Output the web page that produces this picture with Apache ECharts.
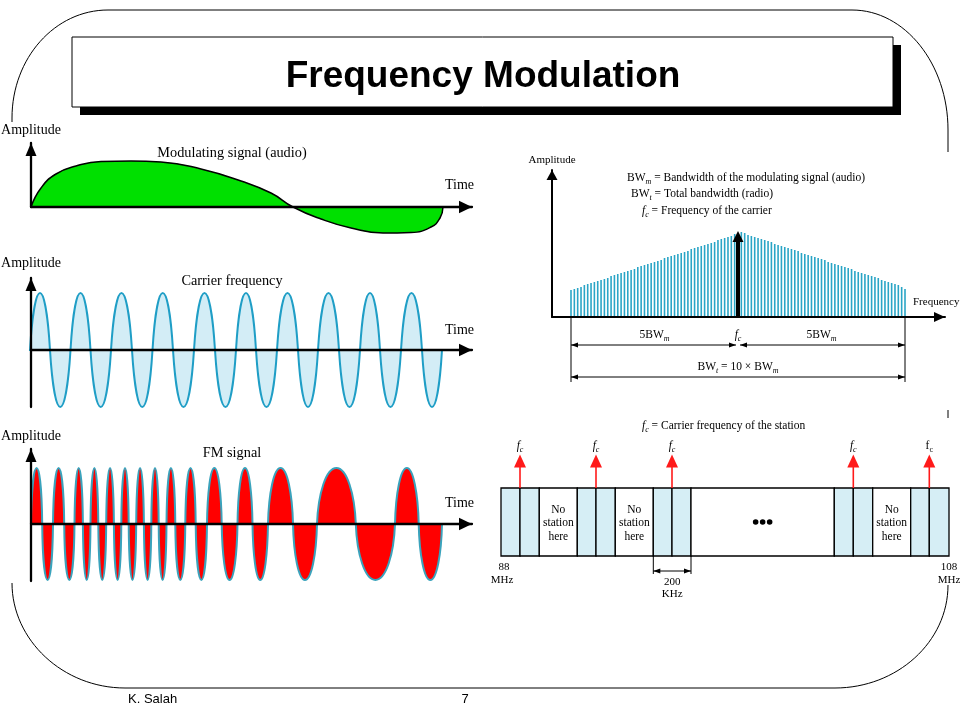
<!DOCTYPE html>
<html>
<head>
<meta charset="utf-8">
<title>Frequency Modulation</title>
<script src="https://cdn.jsdelivr.net/npm/echarts@6/dist/echarts.min.js"></script>
<style>
html,body{margin:0;padding:0;background:#ffffff;}
#chart{width:960px;height:720px;}
</style>
</head>
<body>
<div id="chart"></div>
<script>
// ---------------- data ----------------
// Modulating (audio) signal: [time, amplitude]
const modulatingSignal = [[0,0],[10,19],[25,33],[45,41],[70,45.5],[100,46],[130,45],[170,38],[210,26],[240,14],[262,0],[290,-12],[320,-21],[352,-26],[380,-25.5],[400,-20],[409,-11],[412,0]];
// Carrier: zero crossings along the time axis, and its amplitude
const carrierCrossings = [-1,19,39.5,59.5,80,101,121.5,142,163,184,205,225,246,267,287,308,329,349,370,391,411];
const carrierAmplitude = 57;
// FM signal: zero crossings along the time axis, and its amplitude
const fmCrossings = [0,11.2,22,33.2,43.5,51.9,59.5,67.3,75.2,82.9,90.3,97.7,105.2,112.9,120.3,127.7,135.5,144.3,154.3,164.7,176,190.7,206.5,221.5,237,262,286,324.8,364,387.7,411];
const fmAmplitude = 56;
// Spectrum: lower sidebands, carrier, upper sidebands (heights)
const lowerSidebands = [27,28,29,30,32,33,34,35,36,37,38,39,41,42,43,44,45,46,47,48,50,51,52,53,54,55,56,57,59,60,61,62,63,64,65,66,68,69,70,71,72,73,74,75,77,78,79,80,81,83];
const carrierLine = 86;
const upperSidebands = [85,84,82,81,80,79,78,77,76,75,73,72,71,70,69,68,67,66,64,63,62,61,60,59,58,57,55,54,53,52,51,50,49,48,46,45,44,43,42,41,40,39,37,36,35,34,33,32,30,28];
// FM band: cells [start, end, kind]  kind 1 = station channel, 0 = no station, 2 = omitted
const bandCells = [[0,19,1],[19,38.3,1],[38.3,76.3,0],[76.3,95,1],[95,114.3,1],[114.3,152.3,0],[152.3,171,1],[171,190,1],[190,333.3,2],[333.3,352.3,1],[352.3,371.7,1],[371.7,409.7,0],[409.7,428.3,1],[428.3,448,1]];
const stationCarriers = [19, 95, 171, 352.3, 428.3];

// ---------------- derived tables ----------------
function lobes(crossings, amp) {
  const out = [];
  for (let i = 0; i < crossings.length - 1; i++) out.push([crossings[i], crossings[i + 1], i % 2 === 0 ? amp : -amp]);
  return out;
}
const carrierLobes = lobes(carrierCrossings, carrierAmplitude);
const fmLobes = lobes(fmCrossings, fmAmplitude);
const spectrumBars = lowerSidebands.concat(['-'], upperSidebands);
const spectrumLabels = spectrumBars.map((v, i) => 'n' + (i - lowerSidebands.length));
const carrierIndex = lowerSidebands.length;

// ---------------- styling ----------------
const serif = '"Liberation Serif", "Times New Roman", serif';
const sans = '"Liberation Sans", Arial, sans-serif';
const BAND_H = 68;

const chart = echarts.init(document.getElementById('chart'));

function axisLook(w, size) {
  return {
    z: 10,
    axisLine: {show: true, onZero: true, symbol: ['none', 'triangle'], symbolSize: size,
      symbolOffset: [0, -size[1] / 2], lineStyle: {color: '#000', width: w}},
    axisTick: {show: false}, axisLabel: {show: false}, splitLine: {show: false}
  };
}
function hidden(extra) {
  return Object.assign({show: false, axisTick: {show: false}, axisLabel: {show: false}, splitLine: {show: false}}, extra);
}

// lobe outline: two cubic quarter arcs; k1x,k1y,k2x shape the curve
function lobeRenderer(fill, stroke, k1x, k1y, k2x) {
  return function (params, api) {
    const x0 = api.value(0), x1 = api.value(1), amp = api.value(2);
    const a = api.coord([x0, 0]), b = api.coord([x1, 0]);
    const top = api.coord([x0, amp])[1];
    const w = (b[0] - a[0]) / 2, m = a[0] + w, y0 = a[1], dy = top - y0;
    const d = 'M' + a[0] + ' ' + y0 +
      ' C' + (a[0] + k1x * w) + ' ' + (y0 + k1y * dy) + ' ' + (a[0] + k2x * w) + ' ' + top + ' ' + m + ' ' + top +
      ' C' + (b[0] - k2x * w) + ' ' + top + ' ' + (b[0] - k1x * w) + ' ' + (y0 + k1y * dy) + ' ' + b[0] + ' ' + y0 + ' Z';
    return {type: 'path', shape: {pathData: d}, style: {fill: fill, stroke: stroke, lineWidth: 2}};
  };
}

const richSet = {
  r: {fontFamily: serif, fontSize: 11.5, lineHeight: 16, fill: '#000'},
  i: {fontFamily: serif, fontSize: 11.5, fontStyle: 'italic', lineHeight: 16, fill: '#000'},
  s: {fontFamily: serif, fontSize: 8, lineHeight: 8, verticalAlign: 'bottom', fill: '#000'},
  si: {fontFamily: serif, fontSize: 8, fontStyle: 'italic', lineHeight: 8, verticalAlign: 'bottom', fill: '#000'}
};

const option = {
  animation: false,
  backgroundColor: '#fff',
  grid: [
    {left: 31, top: 143, width: 441, height: 64},
    {left: 31, top: 278, width: 441, height: 129},
    {left: 31, top: 449, width: 441, height: 132},
    {left: 552, top: 170, width: 393, height: 147},
    {left: 569.33, top: 170, width: 337.34, height: 147},
    {left: 501, top: 488, width: 448, height: BAND_H}
  ],
  xAxis: [
    Object.assign({gridIndex: 0, type: 'value', min: 0, max: 441}, axisLook(2.3, [12.5, 13])),
    Object.assign({gridIndex: 1, type: 'value', min: 0, max: 441}, axisLook(2.3, [12.5, 13])),
    Object.assign({gridIndex: 2, type: 'value', min: 0, max: 441}, axisLook(2.3, [12.5, 13])),
    Object.assign({gridIndex: 3, type: 'value', min: 0, max: 393}, axisLook(2, [10, 11])),
    hidden({gridIndex: 4, type: 'category', data: spectrumLabels}),
    hidden({gridIndex: 5, type: 'value', min: 0, max: 448})
  ],
  yAxis: [
    Object.assign({gridIndex: 0, type: 'value', min: 0, max: 64}, axisLook(2.3, [11, 13])),
    Object.assign({gridIndex: 1, type: 'value', min: -57, max: 72}, axisLook(2.3, [11, 13])),
    Object.assign({gridIndex: 2, type: 'value', min: -57, max: 75}, axisLook(2.3, [11, 13])),
    Object.assign({gridIndex: 3, type: 'value', min: 0, max: 147}, axisLook(2, [11, 10])),
    hidden({gridIndex: 4, type: 'value', min: 0, max: 147}),
    hidden({gridIndex: 5, type: 'value', min: 0, max: BAND_H})
  ],
  series: [
    {
      name: 'Modulating signal (audio)', type: 'line', xAxisIndex: 0, yAxisIndex: 0,
      data: modulatingSignal, smooth: 0.5, symbol: 'none', clip: false,
      lineStyle: {color: '#000', width: 1.5}, areaStyle: {color: '#00e000', opacity: 1}
    },
    {
      name: 'Carrier frequency', type: 'custom', xAxisIndex: 1, yAxisIndex: 1,
      data: carrierLobes, encode: {x: [0, 1], y: 2},
      renderItem: lobeRenderer('#d3edf6', '#1f9ec6', 0.18, 0.53, 0.55)
    },
    {
      name: 'FM signal', type: 'custom', xAxisIndex: 2, yAxisIndex: 2,
      data: fmLobes, encode: {x: [0, 1], y: 2},
      renderItem: lobeRenderer('#ff0000', '#3aa3bc', 0.06, 0.55, 0.47)
    },
    {
      name: 'Sidebands', type: 'bar', xAxisIndex: 4, yAxisIndex: 4,
      data: spectrumBars, barWidth: 1.6, itemStyle: {color: '#2aa5c6'}
    },
    {
      name: 'Carrier', type: 'custom', xAxisIndex: 4, yAxisIndex: 4,
      data: [[carrierIndex, carrierLine]], encode: {x: 0, y: 1}, z: 5,
      renderItem: function (params, api) {
        const b = api.coord([api.value(0), 0]), t = api.coord([api.value(0), api.value(1)]);
        return {type: 'group', children: [
          {type: 'line', shape: {x1: b[0], y1: b[1], x2: t[0], y2: t[1] + 9}, style: {stroke: '#000', lineWidth: 4}},
          {type: 'polygon', shape: {points: [[t[0], t[1]], [t[0] - 5.5, t[1] + 11], [t[0] + 5.5, t[1] + 11]]}, style: {fill: '#000'}}
        ]};
      }
    },
    {
      name: 'Band', type: 'custom', xAxisIndex: 5, yAxisIndex: 5,
      data: bandCells, encode: {x: [0, 1]},
      renderItem: function (params, api) {
        const x0 = api.value(0), x1 = api.value(1), k = api.value(2);
        const a = api.coord([x0, BAND_H]), b = api.coord([x1, 0]);
        const cx = (a[0] + b[0]) / 2, cy = (a[1] + b[1]) / 2;
        const ch = [{type: 'rect', shape: {x: a[0], y: a[1], width: b[0] - a[0], height: b[1] - a[1]},
          style: {fill: k === 1 ? '#d6eef5' : '#ffffff', stroke: '#000', lineWidth: 1.3}}];
        if (k === 0) {
          ch.push({type: 'text', x: cx, y: cy + 1, style: {text: 'No\nstation\nhere', fontFamily: serif, fontSize: 11.5,
            lineHeight: 13.5, fill: '#000', align: 'center', verticalAlign: 'middle', textAlign: 'center', textVerticalAlign: 'middle'}});
        }
        if (k === 2) {
          [-7, 0, 7].forEach(function (d) {
            ch.push({type: 'circle', shape: {cx: cx + d, cy: cy, r: 2.8}, style: {fill: '#000'}});
          });
        }
        return {type: 'group', children: ch};
      }
    },
    {
      name: 'Stations', type: 'custom', xAxisIndex: 5, yAxisIndex: 5,
      data: stationCarriers.map(function (v) { return [v]; }), encode: {x: 0},
      renderItem: function (params, api) {
        const b = api.coord([api.value(0), BAND_H]);
        const tip = b[1] - 33.5;
        const last = params.dataIndex === stationCarriers.length - 1;
        return {type: 'group', children: [
          {type: 'line', shape: {x1: b[0], y1: b[1], x2: b[0], y2: tip + 10}, style: {stroke: '#ff1a1a', lineWidth: 1.6}},
          {type: 'polygon', shape: {points: [[b[0], tip], [b[0] - 6, tip + 13], [b[0] + 6, tip + 13]]}, style: {fill: '#ff1a1a'}},
          {type: 'text', x: b[0], y: tip - 9, style: {text: last ? '{r|f}{s|c}' : '{i|f}{si|c}', rich: richSet,
            align: 'center', verticalAlign: 'middle', textAlign: 'center', textVerticalAlign: 'middle'}}
        ]};
      }
    }
  ]
};
chart.setOption(option);

// ---------------- annotations & slide furniture ----------------
function T(x, y, text, o) {
  o = o || {};
  const al = o.align || 'left';
  const st = Object.assign({text: text, fontFamily: serif, fontSize: 14, fill: '#000'}, o);
  st.align = al; st.textAlign = al; st.verticalAlign = 'middle'; st.textVerticalAlign = 'middle';
  return {type: 'text', x: x, y: y, z: 30, style: st};
}
function R(x, y, text, al) {
  return {type: 'text', x: x, y: y, z: 30, style: {text: text, rich: richSet, align: al || 'left', textAlign: al || 'left',
    verticalAlign: 'middle', textVerticalAlign: 'middle'}};
}
function L(x1, y1, x2, y2, w) {
  return {type: 'line', z: 30, shape: {x1: x1, y1: y1, x2: x2, y2: y2}, style: {stroke: '#000', lineWidth: w || 1}};
}
function B(x1, y1, c1x, c1y, c2x, c2y, x2, y2) {
  return {type: 'bezierCurve', z: 1, shape: {x1: x1, y1: y1, cpx1: c1x, cpy1: c1y, cpx2: c2x, cpy2: c2y, x2: x2, y2: y2},
    style: {stroke: '#000', lineWidth: 1, fill: 'none'}};
}
function dim(x1, x2, y) {
  return [
    L(x1, y, x2, y, 1),
    {type: 'polygon', z: 30, shape: {points: [[x1, y], [x1 + 7, y - 2.5], [x1 + 7, y + 2.5]]}, style: {fill: '#000'}},
    {type: 'polygon', z: 30, shape: {points: [[x2, y], [x2 - 7, y - 2.5], [x2 - 7, y + 2.5]]}, style: {fill: '#000'}}
  ];
}
function P(axisIdx, v) { return chart.convertToPixel({xAxisIndex: axisIdx, yAxisIndex: axisIdx}, v); }

const sL = P(4, [0, 0]), sC = P(4, [carrierIndex, 0]), sR = P(4, [spectrumBars.length - 1, 0]);
const yb = sL[1];
const c200a = P(5, [bandCells[6][0], 0]), c200b = P(5, [bandCells[7][1], 0]);
const bandL = P(5, [0, 0]), bandR = P(5, [448, 0]);

let g = [
  // frame
  B(12, 118, 12, 58, 55, 10, 108, 10),
  L(108, 10, 852, 10, 1),
  B(852, 10, 905, 10, 948, 64, 948, 130),
  L(948, 130, 948, 152, 1),
  L(948, 410, 948, 418, 1),
  B(948, 585, 948, 642, 897, 688, 835, 688),
  L(125, 688, 835, 688, 1),
  B(12, 583, 12, 640, 63, 688, 125, 688),
  L(12, 118, 12, 122, 1),
  // title box
  {type: 'rect', z: 2, shape: {x: 80, y: 45, width: 821, height: 70}, style: {fill: '#000'}},
  {type: 'rect', z: 3, shape: {x: 72, y: 37, width: 821, height: 70}, style: {fill: '#fff', stroke: '#000', lineWidth: 1}},
  T(483, 77, 'Frequency Modulation', {fontFamily: sans, fontSize: 37, fontWeight: 'bold', align: 'center'}),
  // left panels
  T(31, 130, 'Amplitude', {align: 'center'}),
  T(31, 263, 'Amplitude', {align: 'center'}),
  T(31, 436, 'Amplitude', {align: 'center'}),
  T(445, 185, 'Time'), T(445, 330, 'Time'), T(445, 503, 'Time'),
  T(232, 153, 'Modulating signal (audio)', {align: 'center', fontSize: 14.3}),
  T(232, 281, 'Carrier frequency', {align: 'center', fontSize: 14.3}),
  T(232, 453, 'FM signal', {align: 'center', fontSize: 14.3}),
  // spectrum
  T(552, 160, 'Amplitude', {fontSize: 11, align: 'center'}),
  T(913, 302, 'Frequency', {fontSize: 11}),
  R(627, 178, '{r|BW}{si|m}{r| = Bandwidth of the modulating signal (audio)}'),
  R(631, 194, '{r|BW}{si|t}{r| = Total bandwidth (radio)}'),
  R(642, 211, '{i|f}{si|c}{r| = Frequency of the carrier}'),
  L(sL[0], yb + 1, sL[0], yb + 65, 1),
  L(sR[0], yb + 1, sR[0], yb + 65, 1),
  R((sL[0] + sC[0]) / 2, yb + 18, '{r|5BW}{si|m}', 'center'),
  R(sC[0], yb + 18, '{i|f}{si|c}', 'center'),
  R((sC[0] + sR[0]) / 2, yb + 18, '{r|5BW}{si|m}', 'center'),
  R(sC[0], yb + 50, '{r|BW}{si|t}{r| = 10 × BW}{si|m}', 'center'),
  // band
  R(642, 426, '{i|f}{si|c}{r| = Carrier frequency of the station}'),
  T(bandL[0] + 3, bandL[1] + 11, '88', {fontSize: 11, align: 'center'}),
  T(bandL[0] + 1, bandL[1] + 24, 'MHz', {fontSize: 11, align: 'center'}),
  T(bandR[0], bandR[1] + 11, '108', {fontSize: 11, align: 'center'}),
  T(bandR[0], bandR[1] + 24, 'MHz', {fontSize: 11, align: 'center'}),
  L(c200a[0], c200a[1], c200a[0], c200a[1] + 18, 1),
  L(c200b[0], c200b[1], c200b[0], c200b[1] + 18, 1),
  T((c200a[0] + c200b[0]) / 2, c200a[1] + 26, '200', {fontSize: 11, align: 'center'}),
  T((c200a[0] + c200b[0]) / 2, c200a[1] + 38, 'KHz', {fontSize: 11, align: 'center'}),
  // footer
  T(128, 699, 'K. Salah', {fontFamily: sans, fontSize: 13}),
  T(465, 699, '7', {fontFamily: sans, fontSize: 13, align: 'center'})
];
g = g.concat(dim(sL[0], sC[0] - 2, yb + 28), dim(sC[0] + 2, sR[0], yb + 28), dim(sL[0], sR[0], yb + 60),
  dim(c200a[0], c200b[0], c200a[1] + 15));
chart.setOption({graphic: {elements: g}});
</script>
</body>
</html>
